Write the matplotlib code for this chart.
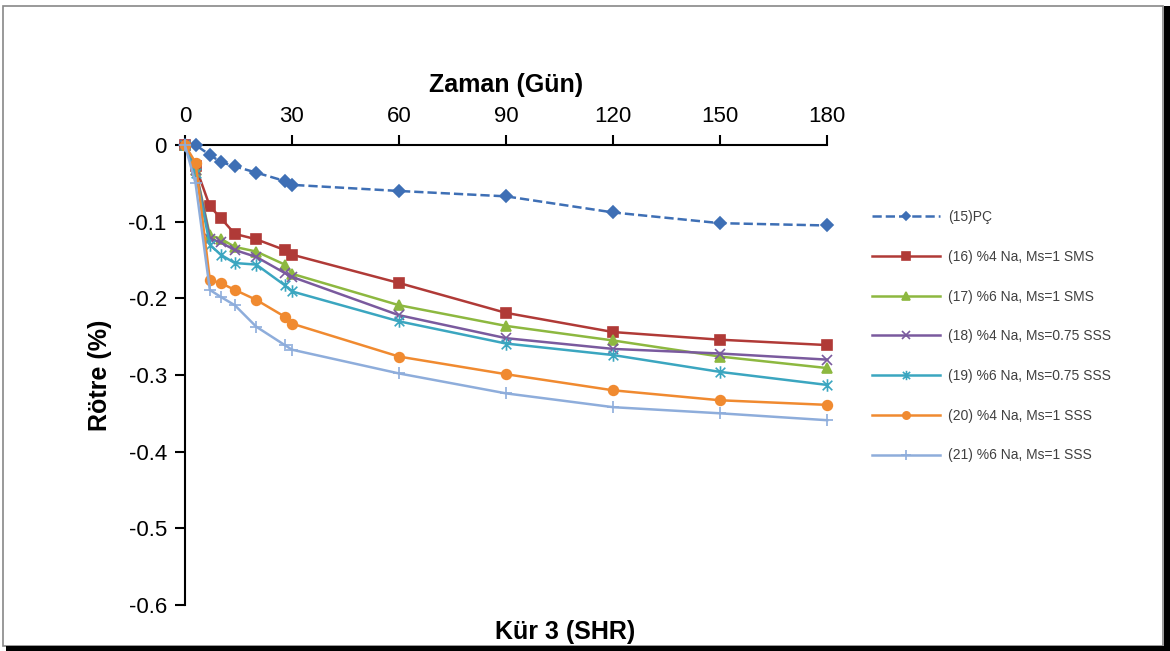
import matplotlib.pyplot as plt
from matplotlib.path import Path
from matplotlib.patches import Rectangle

plt.rcParams['font.family'] = ['Liberation Sans', 'DejaVu Sans']

days = [0, 3, 7, 10, 14, 20, 28, 30, 60, 90, 120, 150, 180]

pc = [0, 0.0, -0.013, -0.022, -0.028, -0.036, -0.047, -0.052, -0.060, -0.067, -0.088, -0.102, -0.105]
na4_sms = [0, -0.028, -0.080, -0.095, -0.116, -0.123, -0.137, -0.143, -0.180, -0.219, -0.244, -0.254, -0.261]
na6_sms = [0, -0.032, -0.118, -0.122, -0.133, -0.139, -0.156, -0.168, -0.209, -0.236, -0.255, -0.276, -0.291]
na4_sss075 = [0, -0.033, -0.122, -0.127, -0.137, -0.146, -0.167, -0.172, -0.222, -0.252, -0.266, -0.272, -0.280]
na6_sss075 = [0, -0.036, -0.130, -0.143, -0.154, -0.156, -0.183, -0.191, -0.230, -0.259, -0.274, -0.296, -0.313]
na4_sss1 = [0, -0.023, -0.176, -0.180, -0.189, -0.202, -0.224, -0.233, -0.276, -0.299, -0.320, -0.333, -0.339]
na6_sss1 = [0, -0.050, -0.189, -0.198, -0.209, -0.237, -0.261, -0.267, -0.298, -0.324, -0.342, -0.350, -0.359]

labels = ['(15)PÇ', '(16) %4 Na, Ms=1 SMS', '(17) %6 Na, Ms=1 SMS',
          '(18) %4 Na, Ms=0.75 SSS', '(19) %6 Na, Ms=0.75 SSS',
          '(20) %4 Na, Ms=1 SSS', '(21) %6 Na, Ms=1 SSS']
series = [pc, na4_sms, na6_sms, na4_sss075, na6_sss075, na4_sss1, na6_sss1]
colors = ['#3E6FB5', '#B03A37', '#8DB840', '#7A5A9E', '#3BA6C0', '#F08A30', '#8EADDB']

# excel style star: x plus vertical bar
star = Path([(-1, -1), (1, 1), (-1, 1), (1, -1), (0, -1.3), (0, 1.3)],
            [Path.MOVETO, Path.LINETO, Path.MOVETO, Path.LINETO, Path.MOVETO, Path.LINETO])
markers = ['D', 's', '^', 'x', star, 'o', '+']
sizes = [6, 7, 7, 7, 9, 7, 9]

fig = plt.figure(figsize=(11.7, 6.51), dpi=100)
ax = fig.add_axes([0.158, 0.0707, 0.549, 0.7066])

for i in range(len(series)):
    ls = '--' if i == 0 else '-'
    ax.plot(days, series[i], color=colors[i], linestyle=ls, linewidth=1.8,
            marker=markers[i], markersize=sizes[i], markeredgewidth=1.2,
            markeredgecolor=colors[i], label=labels[i], clip_on=False)

ax.set_xlim(0, 180)
ax.set_ylim(-0.6, 0)
ax.set_xticks([0, 30, 60, 90, 120, 150, 180])
ax.set_yticks([0, -0.1, -0.2, -0.3, -0.4, -0.5, -0.6])
ax.set_yticklabels(['0', '-0.1', '-0.2', '-0.3', '-0.4', '-0.5', '-0.6'])
ax.xaxis.tick_top()
ax.xaxis.set_label_position('top')
ax.spines['right'].set_visible(False)
ax.spines['bottom'].set_visible(False)
ax.spines['left'].set_linewidth(1.5)
ax.spines['top'].set_linewidth(1.5)
ax.tick_params(axis='both', direction='out', length=7, width=1.5, labelsize=16, pad=6)
ax.set_xlabel('Zaman (Gün)', fontsize=18, fontweight='bold', labelpad=10)
ax.set_ylabel('Rötre (%)', fontsize=18, fontweight='bold', labelpad=12)
for sp in ax.spines.values():
    sp.set_zorder(0)

fig.text(0.483, 0.029, 'Kür 3 (SHR)', ha='center', va='center', fontsize=18, fontweight='bold')

leg = ax.legend(loc='upper left', bbox_to_anchor=(0.745, 0.677), bbox_transform=fig.transFigure,
                frameon=False, fontsize=10, labelspacing=1.85, handlelength=4.9,
                handletextpad=0.6, borderpad=0, borderaxespad=0, markerscale=0.75)
for t in leg.get_texts():
    t.set_color('#404040')

# outer frame with shadow
fig.patches.append(Rectangle((3 / 1170, 5 / 651), 1160 / 1170, 640 / 651, transform=fig.transFigure,
                             fill=False, edgecolor='#888888', linewidth=1.2))
fig.patches.append(Rectangle((1164 / 1170, 0), 6 / 1170, 645 / 651, transform=fig.transFigure,
                             color='black', linewidth=0))
fig.patches.append(Rectangle((6 / 1170, 0), 1164 / 1170, 5 / 651, transform=fig.transFigure,
                             color='black', linewidth=0))

fig.savefig('out.png', dpi=100)
